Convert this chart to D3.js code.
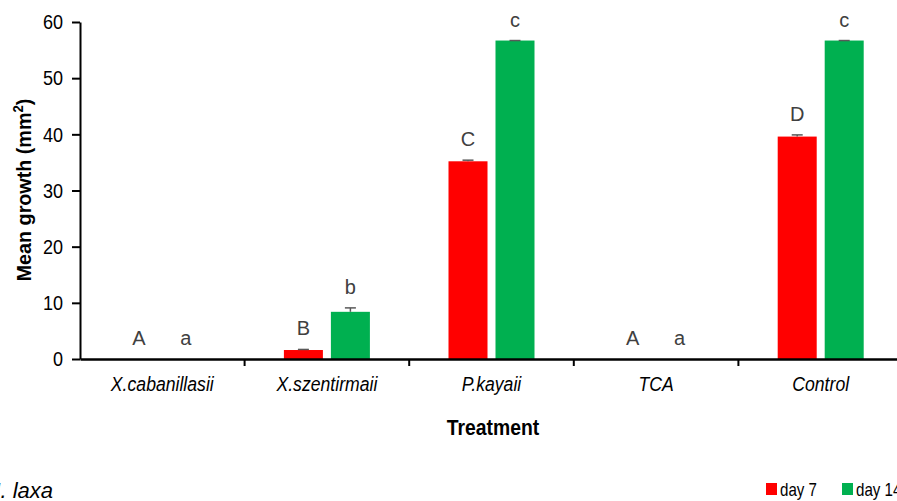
<!DOCTYPE html>
<html>
<head>
<meta charset="utf-8">
<script src="https://cdn.jsdelivr.net/npm/d3@7"></script>
<style>
  html, body { margin: 0; padding: 0; background: #fff; }
  svg { display: block; }
  text { font-family: "Liberation Sans", Arial, sans-serif; }
</style>
</head>
<body>
<svg id="chart" width="897" height="501"></svg>
<script>
const categories = ["X.cabanillasii", "X.szentirmaii", "P.kayaii", "TCA", "Control"];
const series = ["day 7", "day 14"];
const day7 = [0, 1.6, 35.2, 0, 39.6];
const day14 = [0, 8.4, 56.7, 0, 56.7];
const err7 = [0, 0.1, 0.2, 0, 0.3];
const err14 = [0, 0.7, 0, 0, 0];
const letters7 = ["A", "B", "C", "A", "D"];
const letters14 = ["a", "b", "c", "a", "c"];
const yTicks = [0, 10, 20, 30, 40, 50, 60];
const colors = ["#ff0000", "#00b050"];

const rows = [];
categories.forEach((c, i) => {
  rows.push({cat: c, s: series[0], v: day7[i], e: err7[i], l: letters7[i], col: colors[0]});
  rows.push({cat: c, s: series[1], v: day14[i], e: err14[i], l: letters14[i], col: colors[1]});
});

// horizontally condense text around its own anchor point (emulates a narrow face)
function condense(sel, r) {
  sel.each(function () {
    const t = d3.select(this);
    const x = +t.attr("x") || 0, yy = +t.attr("y") || 0;
    t.attr("transform", `translate(${x},${yy}) scale(${r},1) translate(${-x},${-yy})`);
  });
}

const svg = d3.select("#chart");
const x0 = d3.scaleBand().domain(categories).range([80, 903]).padding(0);
const bw = x0.bandwidth();
const x1 = d3.scaleBand().domain(series).range([bw / 2 - 43, bw / 2 + 43]).paddingInner(0.17).paddingOuter(0);
const y = d3.scaleLinear().domain([0, 60]).range([359, 22]);

// bars
svg.append("g").selectAll("rect").data(rows.filter(d => d.v > 0)).join("rect")
  .attr("x", d => x0(d.cat) + x1(d.s))
  .attr("y", d => y(d.v))
  .attr("width", x1.bandwidth())
  .attr("height", d => y(0) - y(d.v))
  .attr("fill", d => d.col);

// error bars
const eg = svg.append("g").attr("stroke", "#595959").attr("stroke-width", 1.5);
rows.filter(d => d.v > 0).forEach(d => {
  const cx = x0(d.cat) + x1(d.s) + x1.bandwidth() / 2;
  eg.append("line").attr("x1", cx).attr("x2", cx).attr("y1", y(d.v)).attr("y2", y(d.v + d.e));
  eg.append("line").attr("x1", cx - 5.5).attr("x2", cx + 5.5).attr("y1", y(d.v + d.e)).attr("y2", y(d.v + d.e));
});

// letters
svg.append("g").selectAll("text").data(rows).join("text")
  .attr("x", d => x0(d.cat) + x1(d.s) + x1.bandwidth() / 2)
  .attr("y", d => y(d.v + d.e) - 14)
  .attr("text-anchor", "middle")
  .attr("font-size", 20)
  .attr("fill", "#404040")
  .text(d => d.l);

// y axis
const yAxis = svg.append("g").attr("transform", "translate(80,0)")
  .call(d3.axisLeft(y).tickValues(yTicks).tickSize(8).tickPadding(9).tickSizeOuter(0));
yAxis.select(".domain").attr("stroke", "#000").attr("stroke-width", 2);
yAxis.selectAll(".tick line").attr("stroke", "#000").attr("stroke-width", 2);
yAxis.selectAll(".tick text").attr("font-size", 21).attr("fill", "#000")
  .attr("font-family", "Liberation Sans, Arial, sans-serif").call(condense, 0.86);

// x axis
const xAxis = svg.append("g").attr("transform", "translate(0,359)")
  .call(d3.axisBottom(x0).tickSize(0).tickPadding(17));
xAxis.select(".domain").attr("stroke", "#000").attr("stroke-width", 2.5);
xAxis.selectAll(".tick text").attr("font-size", 21).attr("font-style", "italic").attr("fill", "#000")
  .attr("font-family", "Liberation Sans, Arial, sans-serif").call(condense, 0.84);
// boundary ticks
svg.append("g").selectAll("line").data(categories.slice(1)).join("line")
  .attr("x1", d => x0(d)).attr("x2", d => x0(d))
  .attr("y1", 359).attr("y2", 366)
  .attr("stroke", "#000").attr("stroke-width", 2);

// axis titles
svg.append("text")
  .attr("transform", "translate(31,190) rotate(-90) scale(0.94,1)")
  .attr("text-anchor", "middle")
  .attr("font-size", 21).attr("font-weight", "bold")
  .text("Mean growth (mm")
  .call(t => t.append("tspan").attr("font-size", 14).attr("dy", -8).text("2"))
  .call(t => t.append("tspan").attr("dy", 8).text(")"));

svg.append("text")
  .attr("x", 493).attr("y", 435)
  .attr("text-anchor", "middle")
  .attr("font-size", 22).attr("font-weight", "bold")
  .text("Treatment").call(condense, 0.88);

svg.append("text")
  .attr("x", 53).attr("y", 498)
  .attr("text-anchor", "end")
  .attr("font-size", 22).attr("font-style", "italic")
  .text("M. laxa");

// legend
const lg = svg.append("g").selectAll("g").data(series).join("g")
  .attr("transform", (d, i) => `translate(${766 + i * 76},483)`);
lg.append("rect").attr("width", 11).attr("height", 12).attr("fill", (d, i) => colors[i]);
lg.append("text").attr("x", 14).attr("y", 13)
  .attr("font-size", 18).attr("fill", "#000").text(d => d).call(condense, 0.84);
</script>
</body>
</html>
